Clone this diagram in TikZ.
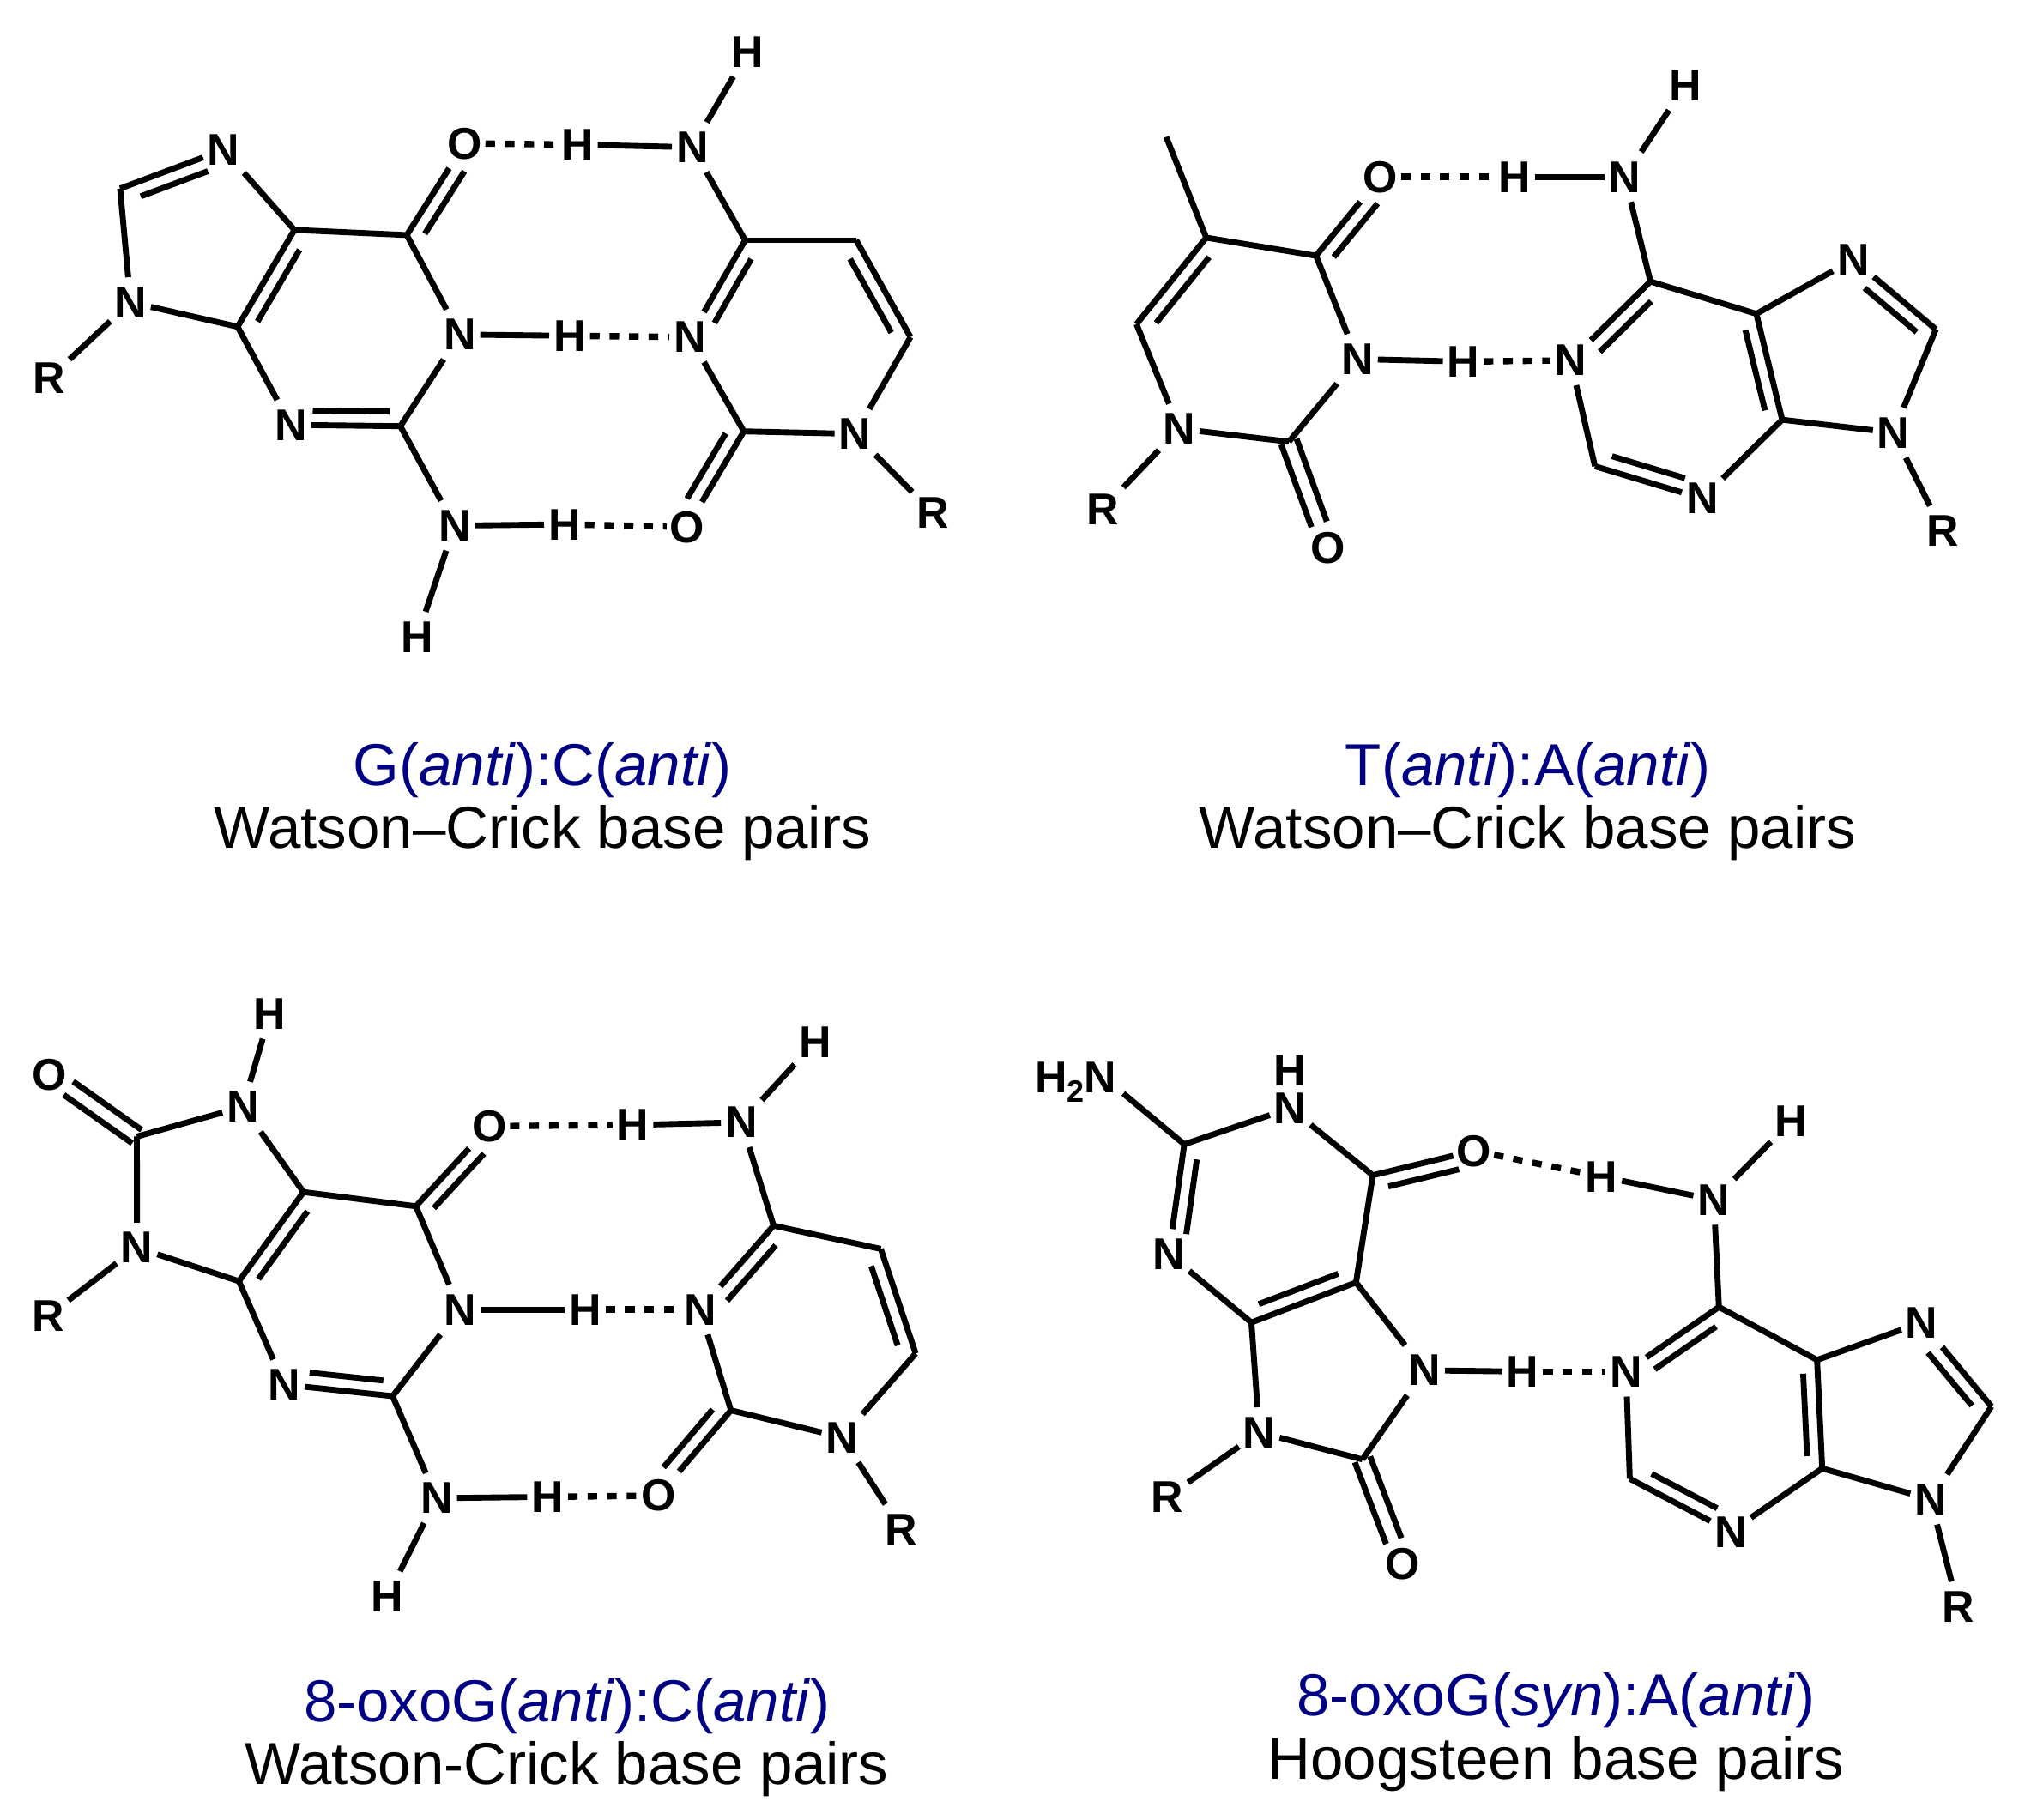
\documentclass[tikz,border=0pt]{standalone}
\usepackage{fontspec}
\setmainfont{Liberation Sans}
\usetikzlibrary{calc}
\definecolor{capblue}{RGB}{0,0,132}
\tikzset{
  atom/.style={rectangle,inner sep=0pt,minimum width=8.6pt,minimum height=10.6pt,text height=6.8pt,text depth=0pt,xshift=.3pt,font=\fontsize{9.8}{11}\bfseries\selectfont},
  bond/.style={line width=1.3pt,line cap=butt,line join=round,black},
  hbond/.style={line width=1.4pt,black,dash pattern=on 2.1pt off 2.2pt},
  captop/.style={font=\fontsize{13.05}{15}\selectfont,text=capblue,inner sep=0pt,yshift=-1pt},
  capbot/.style={font=\fontsize{13.05}{15}\selectfont,text=black,inner sep=0pt,yshift=-1.1pt}
}
% single bonds from node to node
\newcommand\snb[2]{\draw[bond] (#1) -- (#2);}
% asymmetric double bond: from, to, side angle, inner start fraction, inner end fraction
\newcommand\dbl[5]{\draw[bond] (#1) -- (#2);
  \draw[bond] ($(#1)!#4!(#2)!3.2pt!#3:(#2)$) -- ($(#1)!#5!(#2)!3.2pt!#3:(#2)$);}
% symmetric double bond: from, to, end fraction
\newcommand\symdbl[3]{%
  \draw[bond] ($(#1)!0!(#2)!1.8pt!90:(#2)$) -- ($(#1)!#3!(#2)!1.8pt!90:(#2)$);
  \draw[bond] ($(#1)!0!(#2)!1.8pt!-90:(#2)$) -- ($(#1)!#3!(#2)!1.8pt!-90:(#2)$);}
\newcommand\hyb[2]{\draw[hbond] (#1) -- (#2);}
\begin{document}
\begin{tikzpicture}[x=0.01cm,y=-0.01cm]
\useasboundingbox (0,0) rectangle (1568,1409);
% ---------- G:C
\node[atom] (an7) at (172,116) {N};
\coordinate (ac8) at (93,146);
\node[atom] (an9) at (100,234) {N};
\node[atom] (ar1) at (37,293) {R};
\coordinate (ac4) at (184,253);
\coordinate (ac5) at (228,178);
\coordinate (ac6) at (315,182);
\node[atom] (ao6) at (359,111) {O};
\node[atom] (an1) at (355,259) {N};
\coordinate (ac2) at (310,330);
\node[atom] (an3) at (224,329) {N};
\node[atom] (an2) at (351,407) {N};
\node[atom] (ah2) at (322,493) {H};
\node[atom] (ah1) at (440,260) {H};
\node[atom] (ah3) at (436,406) {H};
\node[atom] (ah4) at (446,112) {H};
\node[atom] (ap3) at (533,261) {N};
\coordinate (apc2) at (576,334);
\node[atom] (ao2) at (531,408) {O};
\node[atom] (ap1) at (661,336) {N};
\node[atom] (ar2) at (721,397) {R};
\coordinate (apc6) at (705,261);
\coordinate (apc5) at (663,186);
\coordinate (apc4) at (577,186);
\node[atom] (ap4) at (535,114) {N};
\node[atom] (ah5) at (578,40) {H};
\dbl{ac8}{an7}{-90}{.15}{.8}
\snb{an7}{ac5}\snb{ac8}{an9}\snb{an9}{ar1}\snb{an9}{ac4}
\dbl{ac4}{ac5}{-90}{.13}{.87}
\snb{ac5}{ac6}\dbl{ac6}{ao6}{-90}{.1}{.78}
\snb{ac6}{an1}\snb{an1}{ac2}
\dbl{ac2}{an3}{-90}{.1}{.8}
\snb{an3}{ac4}\snb{ac2}{an2}\snb{an2}{ah2}\snb{an2}{ah3}\snb{an1}{ah1}
\hyb{ao6}{ah4}\hyb{ah1}{ap3}\hyb{ah3}{ao2}
\snb{ah4}{ap4}\snb{ap4}{ah5}\snb{ap4}{apc4}
\dbl{apc4}{ap3}{90}{.12}{.78}
\snb{ap3}{apc2}\dbl{apc2}{ao2}{-90}{.1}{.78}
\snb{apc2}{ap1}\snb{ap1}{ar2}\snb{ap1}{apc6}
\dbl{apc5}{apc6}{-90}{.12}{.88}
\snb{apc4}{apc5}
\node[captop] (acap1) at (420,593) {G(\textit{anti}):C(\textit{anti})};
\node[capbot] (acap2) at (420,641) {Watson–Crick base pairs};
% ---------- T:A
\coordinate (bme) at (903,106);
\coordinate (bc5) at (934,184);
\coordinate (bc4) at (1019,198);
\node[atom] (bo4) at (1068,137) {O};
\node[atom] (bn3) at (1050,278) {N};
\coordinate (bc2) at (998,342);
\node[atom] (bo2) at (1027,424) {O};
\node[atom] (bn1) at (912,332) {N};
\node[atom] (br1) at (853,394) {R};
\coordinate (bc6) at (880,251);
\node[atom] (bh1) at (1132,280) {H};
\node[atom] (ba1) at (1215,279) {N};
\coordinate (bac6) at (1278,218);
\coordinate (bac5) at (1360,243);
\node[atom] (ba7) at (1434,201) {N};
\coordinate (bac8) at (1499,255);
\node[atom] (ba9) at (1465,335) {N};
\coordinate (bac4) at (1380,325);
\node[atom] (ba3) at (1317,386) {N};
\coordinate (bac2) at (1235,361);
\node[atom] (br2) at (1503,411) {R};
\node[atom] (ba6) at (1257,137) {N};
\node[atom] (bh2) at (1172,137) {H};
\node[atom] (bh3) at (1304,66) {H};
\snb{bme}{bc5}\snb{bc5}{bc4}
\dbl{bc5}{bc6}{90}{.12}{.88}
\dbl{bc4}{bo4}{-90}{.1}{.78}
\snb{bc4}{bn3}\snb{bn3}{bc2}\snb{bc2}{bn1}\snb{bn1}{bc6}\snb{bn1}{br1}
\symdbl{bc2}{bo2}{.78}
\snb{bn3}{bh1}\hyb{bh1}{ba1}\hyb{bo4}{bh2}\snb{bh2}{ba6}\snb{ba6}{bh3}\snb{ba6}{bac6}
\dbl{bac6}{ba1}{90}{.12}{.76}
\snb{bac6}{bac5}\snb{bac5}{ba7}
\dbl{bac5}{bac4}{-90}{.12}{.88}
\dbl{ba7}{bac8}{-90}{.25}{.88}
\snb{bac8}{ba9}\snb{ba9}{bac4}\snb{ba9}{br2}\snb{bac4}{ba3}
\dbl{bac2}{ba3}{90}{.12}{.8}
\snb{ba1}{bac2}
\node[captop] (bcap1) at (1183,593) {T(\textit{anti}):A(\textit{anti})};
\node[capbot] (bcap2) at (1183,641) {Watson–Crick base pairs};
% ---------- 8-oxoG:C
\node[atom] (co8) at (37,832) {O};
\node[atom] (ch7) at (208,785) {H};
\node[atom] (cn7) at (187,857) {N};
\coordinate (cc8) at (106,880);
\node[atom] (cn9) at (105,966) {N};
\node[atom] (cr1) at (36,1019) {R};
\coordinate (cc4) at (185,992);
\coordinate (cc5) at (235,923);
\coordinate (cc6) at (322,934);
\node[atom] (co6) at (378,872) {O};
\node[atom] (cn1) at (355,1014) {N};
\coordinate (cc2) at (304,1081);
\node[atom] (cn3) at (219,1072) {N};
\node[atom] (cn2) at (337,1160) {N};
\node[atom] (ch2) at (299,1236) {H};
\node[atom] (ch1) at (452,1014) {H};
\node[atom] (ch4) at (489,871) {H};
\node[atom] (ch3) at (423,1159) {H};
\node[atom] (co2) at (509,1158) {O};
\node[atom] (cp3) at (541,1014) {N};
\coordinate (cpc2) at (566,1092);
\node[atom] (cp1) at (651,1113) {N};
\node[atom] (cr2) at (697,1184) {R};
\coordinate (cpc6) at (709,1048);
\coordinate (cpc5) at (682,967);
\coordinate (cpc4) at (599,949);
\node[atom] (cp4) at (573,869) {N};
\node[atom] (ch5) at (630,807) {H};
\symdbl{cc8}{co8}{.78}
\snb{cc8}{cn7}\snb{cn7}{ch7}\snb{cn7}{cc5}\snb{cc8}{cn9}\snb{cn9}{cr1}\snb{cn9}{cc4}
\dbl{cc4}{cc5}{-90}{.12}{.88}
\snb{cc5}{cc6}\dbl{cc6}{co6}{-90}{.1}{.78}
\snb{cc6}{cn1}\snb{cn1}{cc2}
\dbl{cc2}{cn3}{-90}{.1}{.78}
\snb{cn3}{cc4}\snb{cc2}{cn2}\snb{cn2}{ch2}\snb{cn2}{ch3}\snb{cn1}{ch1}
\hyb{co6}{ch4}\hyb{ch1}{cp3}\hyb{ch3}{co2}
\snb{ch4}{cp4}\snb{cp4}{ch5}\snb{cp4}{cpc4}
\dbl{cpc4}{cp3}{90}{.12}{.78}
\snb{cp3}{cpc2}\dbl{cpc2}{co2}{-90}{.1}{.78}
\snb{cpc2}{cp1}\snb{cp1}{cr2}\snb{cp1}{cpc6}
\dbl{cpc5}{cpc6}{-90}{.12}{.88}
\snb{cpc4}{cpc5}
\node[captop] (ccap1) at (439,1318) {8-oxoG(\textit{anti}):C(\textit{anti})};
\node[capbot] (ccap2) at (439,1366) {Watson-Crick base pairs};
% ---------- 8-oxoG(syn):A
\node[atom,minimum width=20.5pt,minimum height=6.8pt] (dh2n) at (832,834) {H\raisebox{-2.2pt}{\fontsize{6.8}{8}\selectfont 2}N};
\node[atom] (dh1) at (998,829) {H};
\node[atom] (dn1) at (998,858) {N};
\coordinate (dc2) at (917,886);
\node[atom] (dn3) at (904,971) {N};
\coordinate (dc4) at (969,1024);
\coordinate (dc5) at (1050,993);
\coordinate (dc6) at (1063,910);
\node[atom] (do6) at (1140,891) {O};
\node[atom] (dn7) at (1102,1061) {N};
\coordinate (dc8) at (1055,1130);
\node[atom] (do8) at (1085,1211) {O};
\node[atom] (dn9) at (974,1109) {N};
\node[atom] (dr1) at (903,1159) {R};
\node[atom] (dh7) at (1178,1062) {H};
\node[atom] (dh4) at (1239,911) {H};
\node[atom] (da6) at (1326,929) {N};
\node[atom] (dh5) at (1386,868) {H};
\coordinate (dac6) at (1331,1012);
\node[atom] (da1) at (1258,1062) {N};
\coordinate (dac2) at (1262,1145);
\node[atom] (da3) at (1339,1186) {N};
\coordinate (dac4) at (1411,1137);
\coordinate (dac5) at (1407,1053);
\node[atom] (da7) at (1487,1024) {N};
\coordinate (dac8) at (1542,1089);
\node[atom] (da9) at (1494,1161) {N};
\node[atom] (dr2) at (1515,1244) {R};
\draw[bond] (dc2) -- (dh2n.south east);
\snb{dc2}{dn1}\snb{dn1}{dc6}
\dbl{dc2}{dn3}{90}{.12}{.8}
\snb{dn3}{dc4}
\dbl{dc4}{dc5}{90}{.12}{.88}
\snb{dc5}{dc6}\dbl{dc6}{do6}{-90}{.12}{.82}
\snb{dc5}{dn7}\snb{dn7}{dc8}\snb{dc8}{dn9}\snb{dn9}{dc4}\snb{dn9}{dr1}
\symdbl{dc8}{do8}{.78}
\snb{dn7}{dh7}\hyb{dh7}{da1}\hyb{do6}{dh4}\snb{dh4}{da6}\snb{da6}{dh5}\snb{da6}{dac6}
\dbl{dac6}{da1}{90}{.12}{.78}
\snb{da1}{dac2}
\dbl{dac2}{da3}{90}{.15}{.8}
\snb{da3}{dac4}\snb{dac6}{dac5}
\dbl{dac5}{dac4}{-90}{.12}{.88}
\snb{dac5}{da7}
\dbl{da7}{dac8}{-90}{.25}{.88}
\snb{dac8}{da9}\snb{da9}{dac4}\snb{da9}{dr2}
\node[captop] (dcap1) at (1205,1313) {8-oxoG(\textit{syn}):A(\textit{anti})};
\node[capbot] (dcap2) at (1205,1362) {Hoogsteen base pairs};
\end{tikzpicture}
\end{document}
